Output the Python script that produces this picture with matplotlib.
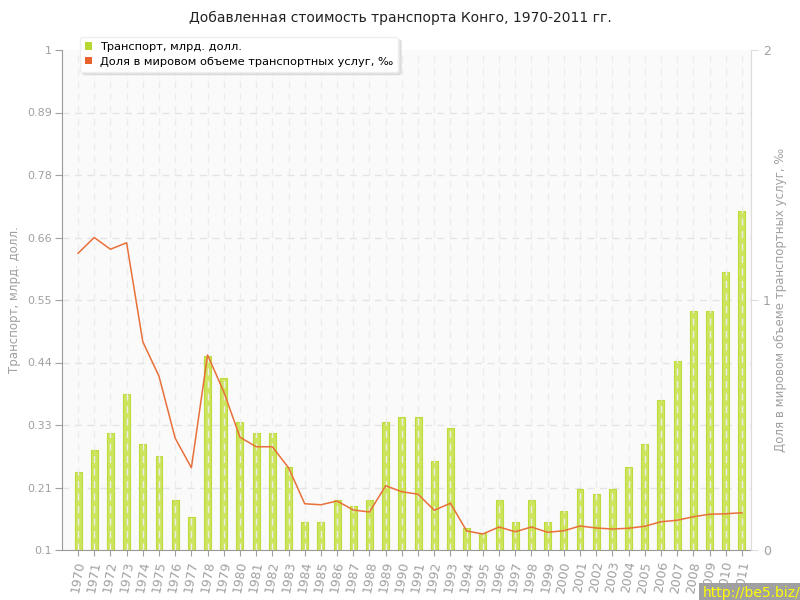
import matplotlib
matplotlib.use("Agg")
import matplotlib.pyplot as plt
import numpy as np
from matplotlib.patches import Patch

years = list(range(1970, 2012))
transport = [0.24, 0.28, 0.31, 0.38, 0.29, 0.27, 0.19, 0.16, 0.45, 0.41,
             0.33, 0.31, 0.31, 0.25, 0.15, 0.15, 0.19, 0.18, 0.19, 0.33,
             0.34, 0.34, 0.26, 0.32, 0.14, 0.13, 0.19, 0.15, 0.19, 0.15,
             0.17, 0.21, 0.20, 0.21, 0.25, 0.29, 0.37, 0.44, 0.53, 0.53,
             0.60, 0.71]
share = [1.187, 1.25, 1.203, 1.229, 0.833, 0.695, 0.447, 0.329, 0.78, 0.633,
         0.451, 0.413, 0.413, 0.329, 0.185, 0.181, 0.196, 0.16, 0.152, 0.257,
         0.233, 0.223, 0.159, 0.187, 0.076, 0.064, 0.092, 0.073, 0.092, 0.071,
         0.077, 0.096, 0.088, 0.084, 0.087, 0.095, 0.113, 0.119, 0.133, 0.143,
         0.145, 0.149]
left_ticks = [0.1, 0.2125, 0.325, 0.4375, 0.55, 0.6625, 0.775, 0.8875, 1.0]
left_labels = ["0.1", "0.21", "0.33", "0.44", "0.55", "0.66", "0.78", "0.89", "1"]
right_ticks = [0, 1, 2]
right_labels = ["0", "1", "2"]

title = "Добавленная стоимость транспорта Конго, 1970-2011 гг."
label_bar = "Транспорт, млрд. долл."
label_line = "Доля в мировом объеме транспортных услуг, ‰"

green = "#cde45e"
green_edge = "#bcdc3c"
orange = "#e8703a"
gray = "#a0a0a0"

fig = plt.figure(figsize=(8, 6), dpi=100)
ax = fig.add_axes([62/800, 1-550/600, (751-62)/800, 500/600])
ax.set_facecolor("#fafafa")
x = np.arange(len(years))

ax.set_xlim(-0.99, 41.56)
ax.set_ylim(0.1, 1.0)

# grid
for t in left_ticks[1:-1]:
    ax.axhline(t, color="#e4e4e4", lw=1, ls=(0, (5, 4)), zorder=1)
ax.bar(x, np.array(transport) - 0.1, bottom=0.1, width=0.43, color=green,
       edgecolor=green_edge, linewidth=0.8, zorder=2)
for xi in x:
    ax.axvline(xi, color="#ececec", lw=1, ls=(0, (5, 4)), zorder=3)

ax.set_yticks(left_ticks)
ax.set_yticklabels(left_labels)
ax.set_xticks(x)
ax.set_xticklabels([str(y) for y in years], rotation=80, fontsize=9, color=gray)
ax.tick_params(axis="y", colors=gray, labelsize=8, length=5, pad=2, color=gray)
ax.tick_params(axis="x", length=4, color=gray)
ax.spines["top"].set_visible(False)
ax.spines["left"].set_color("#999999")
ax.spines["bottom"].set_color("#999999")
ax.spines["right"].set_color("#dddddd")
ax.set_ylabel(label_bar, color=gray, fontsize=8.5)
ax.yaxis.set_label_coords((21-62)/689, 0.5)

ax2 = ax.twinx()
ax2.set_ylim(0, 2)
ax2.plot(x, share, color=orange, lw=1.1, zorder=4)
ax2.set_yticks(right_ticks)
ax2.set_yticklabels(right_labels)
ax2.tick_params(axis="y", colors=gray, labelsize=9, length=5, color="#dddddd")
for s in ["top", "left", "bottom"]:
    ax2.spines[s].set_visible(False)
ax2.spines["right"].set_color("#dddddd")
ax2.set_ylabel(label_line, color=gray, fontsize=8.5)
ax2.yaxis.set_label_coords((774-62)/689, 0.5)

fig.text(0.5, 1-18/600, title, ha="center", va="center", fontsize=10, color="#222222")

# legend
handles = [Patch(facecolor="#b5d930", edgecolor="none"),
           Patch(facecolor="#e8622c", edgecolor="none")]
leg = ax2.legend(handles, [label_bar, label_line], loc="upper left",
                 bbox_to_anchor=((80-62)/689, (550-37)/500), borderaxespad=0,
                 fontsize=8.2, frameon=True, fancybox=True,
                 shadow={"color": "#cccccc", "alpha": 0.5},
                 handlelength=0.6, handleheight=0.6,
                 handletextpad=0.7, borderpad=0.45, labelspacing=0.4)
leg.get_frame().set_facecolor("white")
leg.get_frame().set_edgecolor("#eeeeee")
leg.set_zorder(10)

fig.text(1.0, 0.0, "http://be5.biz/", ha="right", va="bottom", fontsize=10,
         color="#ffff00", bbox=dict(boxstyle="square,pad=0.2", fc="#a0a0a0", ec="none"))

fig.savefig("out.png", dpi=100)
